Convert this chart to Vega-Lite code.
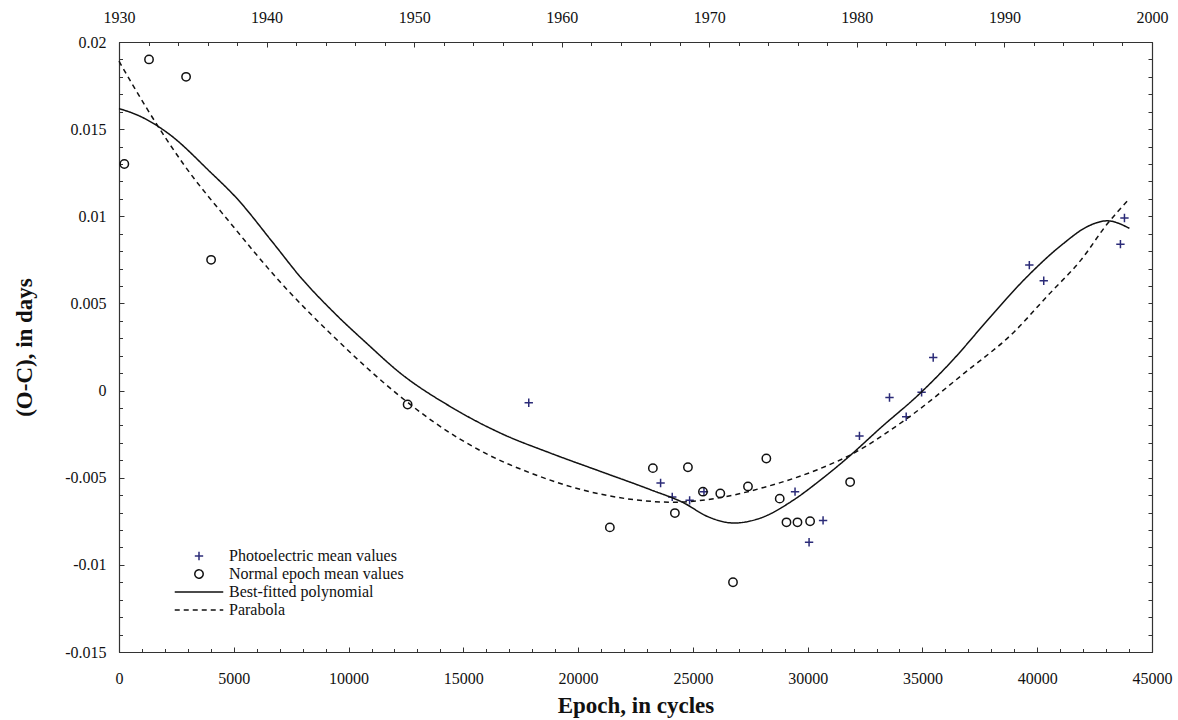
{
  "$schema": "https://vega.github.io/schema/vega-lite/v6.json",
  "width": 1033,
  "height": 610,
  "autosize": {"type": "none"},
  "padding": {"left": 119, "top": 42, "right": 26, "bottom": 68},
  "datasets": {
    "main": [
      {"series": "Photoelectric mean values", "epoch": 17850, "oc": -0.0007},
      {"series": "Photoelectric mean values", "epoch": 23593, "oc": -0.0053},
      {"series": "Photoelectric mean values", "epoch": 24101, "oc": -0.0061},
      {"series": "Photoelectric mean values", "epoch": 24858, "oc": -0.0063},
      {"series": "Photoelectric mean values", "epoch": 25482, "oc": -0.0058},
      {"series": "Photoelectric mean values", "epoch": 29450, "oc": -0.0058},
      {"series": "Photoelectric mean values", "epoch": 30061, "oc": -0.0087},
      {"series": "Photoelectric mean values", "epoch": 30671, "oc": -0.00745},
      {"series": "Photoelectric mean values", "epoch": 32256, "oc": -0.0026},
      {"series": "Photoelectric mean values", "epoch": 33565, "oc": -0.0004},
      {"series": "Photoelectric mean values", "epoch": 34292, "oc": -0.0015},
      {"series": "Photoelectric mean values", "epoch": 34963, "oc": -0.0001},
      {"series": "Photoelectric mean values", "epoch": 35469, "oc": 0.0019},
      {"series": "Photoelectric mean values", "epoch": 39656, "oc": 0.0072},
      {"series": "Photoelectric mean values", "epoch": 40284, "oc": 0.0063},
      {"series": "Photoelectric mean values", "epoch": 43625, "oc": 0.0084},
      {"series": "Photoelectric mean values", "epoch": 43800, "oc": 0.0099},
      {"series": "Normal epoch mean values", "epoch": 232, "oc": 0.013},
      {"series": "Normal epoch mean values", "epoch": 1308, "oc": 0.019},
      {"series": "Normal epoch mean values", "epoch": 2922, "oc": 0.018},
      {"series": "Normal epoch mean values", "epoch": 4012, "oc": 0.0075},
      {"series": "Normal epoch mean values", "epoch": 12573, "oc": -0.0008},
      {"series": "Normal epoch mean values", "epoch": 21383, "oc": -0.00785},
      {"series": "Normal epoch mean values", "epoch": 23257, "oc": -0.00445},
      {"series": "Normal epoch mean values", "epoch": 24216, "oc": -0.00703},
      {"series": "Normal epoch mean values", "epoch": 24784, "oc": -0.0044},
      {"series": "Normal epoch mean values", "epoch": 25438, "oc": -0.0058},
      {"series": "Normal epoch mean values", "epoch": 26194, "oc": -0.0059},
      {"series": "Normal epoch mean values", "epoch": 26747, "oc": -0.011},
      {"series": "Normal epoch mean values", "epoch": 27400, "oc": -0.0055},
      {"series": "Normal epoch mean values", "epoch": 28200, "oc": -0.0039},
      {"series": "Normal epoch mean values", "epoch": 28783, "oc": -0.0062},
      {"series": "Normal epoch mean values", "epoch": 29077, "oc": -0.00756},
      {"series": "Normal epoch mean values", "epoch": 29556, "oc": -0.00756},
      {"series": "Normal epoch mean values", "epoch": 30106, "oc": -0.0075},
      {"series": "Normal epoch mean values", "epoch": 31850, "oc": -0.00525},
      {"series": "Best-fitted polynomial", "epoch": 0, "oc": 0.01618},
      {"series": "Best-fitted polynomial", "epoch": 916, "oc": 0.01574},
      {"series": "Best-fitted polynomial", "epoch": 2151, "oc": 0.01475},
      {"series": "Best-fitted polynomial", "epoch": 3969, "oc": 0.01255},
      {"series": "Best-fitted polynomial", "epoch": 5132, "oc": 0.01103},
      {"series": "Best-fitted polynomial", "epoch": 6729, "oc": 0.00845},
      {"series": "Best-fitted polynomial", "epoch": 7893, "oc": 0.00653},
      {"series": "Best-fitted polynomial", "epoch": 9346, "oc": 0.0045},
      {"series": "Best-fitted polynomial", "epoch": 10800, "oc": 0.0027},
      {"series": "Best-fitted polynomial", "epoch": 12254, "oc": 0.001},
      {"series": "Best-fitted polynomial", "epoch": 14435, "oc": -0.00092},
      {"series": "Best-fitted polynomial", "epoch": 16615, "oc": -0.00244},
      {"series": "Best-fitted polynomial", "epoch": 18796, "oc": -0.00359},
      {"series": "Best-fitted polynomial", "epoch": 20977, "oc": -0.00464},
      {"series": "Best-fitted polynomial", "epoch": 23157, "oc": -0.00569},
      {"series": "Best-fitted polynomial", "epoch": 24610, "oc": -0.00645},
      {"series": "Best-fitted polynomial", "epoch": 25628, "oc": -0.00722},
      {"series": "Best-fitted polynomial", "epoch": 26791, "oc": -0.0076},
      {"series": "Best-fitted polynomial", "epoch": 27954, "oc": -0.00731},
      {"series": "Best-fitted polynomial", "epoch": 29407, "oc": -0.00626},
      {"series": "Best-fitted polynomial", "epoch": 30570, "oc": -0.00512},
      {"series": "Best-fitted polynomial", "epoch": 31805, "oc": -0.00378},
      {"series": "Best-fitted polynomial", "epoch": 33159, "oc": -0.00216},
      {"series": "Best-fitted polynomial", "epoch": 34903, "oc": -0.00015},
      {"series": "Best-fitted polynomial", "epoch": 36357, "oc": 0.0018},
      {"series": "Best-fitted polynomial", "epoch": 37811, "oc": 0.004},
      {"series": "Best-fitted polynomial", "epoch": 39556, "oc": 0.00653},
      {"series": "Best-fitted polynomial", "epoch": 41154, "oc": 0.00845},
      {"series": "Best-fitted polynomial", "epoch": 42170, "oc": 0.0094},
      {"series": "Best-fitted polynomial", "epoch": 43042, "oc": 0.00974},
      {"series": "Best-fitted polynomial", "epoch": 44015, "oc": 0.00931},
      {"series": "Parabola", "epoch": 0, "oc": 0.0189},
      {"series": "Parabola", "epoch": 1206, "oc": 0.0162},
      {"series": "Parabola", "epoch": 2805, "oc": 0.013},
      {"series": "Parabola", "epoch": 4985, "oc": 0.0094},
      {"series": "Parabola", "epoch": 6877, "oc": 0.00644},
      {"series": "Parabola", "epoch": 9346, "oc": 0.0031},
      {"series": "Parabola", "epoch": 12254, "oc": -0.00034},
      {"series": "Parabola", "epoch": 13709, "oc": -0.0018},
      {"series": "Parabola", "epoch": 15890, "oc": -0.00355},
      {"series": "Parabola", "epoch": 18070, "oc": -0.0048},
      {"series": "Parabola", "epoch": 20251, "oc": -0.00572},
      {"series": "Parabola", "epoch": 22431, "oc": -0.00626},
      {"series": "Parabola", "epoch": 24175, "oc": -0.00641},
      {"series": "Parabola", "epoch": 26065, "oc": -0.00617},
      {"series": "Parabola", "epoch": 28245, "oc": -0.0055},
      {"series": "Parabola", "epoch": 30425, "oc": -0.00454},
      {"series": "Parabola", "epoch": 31850, "oc": -0.0037},
      {"series": "Parabola", "epoch": 34351, "oc": -0.00158},
      {"series": "Parabola", "epoch": 36822, "oc": 0.001},
      {"series": "Parabola", "epoch": 39003, "oc": 0.00338},
      {"series": "Parabola", "epoch": 40457, "oc": 0.00545},
      {"series": "Parabola", "epoch": 41910, "oc": 0.0075},
      {"series": "Parabola", "epoch": 43073, "oc": 0.0096},
      {"series": "Parabola", "epoch": 43944, "oc": 0.0109}
    ],
    "years": [{"year": 1930}, {"year": 2000}],
    "ocrange": [{"oc": -0.015}, {"oc": 0.02}]
  },
  "layer": [
    {
      "data": {"name": "main"},
      "layer": [
        {
          "transform": [{"filter": {"field": "series", "oneOf": ["Photoelectric mean values", "Normal epoch mean values"]}}],
          "mark": {"type": "point", "filled": false, "strokeWidth": 1.5, "size": 70, "opacity": 1},
          "encoding": {
            "x": {
              "field": "epoch", "type": "quantitative",
              "scale": {"domain": [0, 45000], "nice": false, "zero": false},
              "axis": {
                "orient": "bottom", "title": "Epoch, in cycles", "titlePadding": 8,
                "values": [0,5000,10000,15000,20000,25000,30000,35000,40000,45000],
                "format": "d", "tickSize": -5,
                "labelPadding": 23, "labelOverlap": false, "labelFlush": false, "labelBound": false
              }
            },
            "y": {
              "field": "oc", "type": "quantitative",
              "scale": {"domain": [-0.015, 0.02], "nice": false, "zero": false},
              "axis": {
                "orient": "left", "title": "(O-C), in days", "titlePadding": 28,
                "values": [-0.015,-0.01,-0.005,0,0.005,0.01,0.015,0.02],
                "labelExpr": "'' + round(datum.value*1000)/1000",
                "tickSize": -5,
                "labelPadding": 18, "labelOverlap": false, "labelFlush": false, "labelBound": false
              }
            },
            "shape": {
              "field": "series", "type": "nominal",
              "scale": {
                "domain": ["Photoelectric mean values", "Normal epoch mean values", "Best-fitted polynomial", "Parabola"],
                "range": ["M-1,0H1M0,-1V1", "circle", "M-5.8,0H5.8", "M-5.8,0H5.8"]
              },
              "legend": {"title": null}
            },
            "color": {
              "field": "series", "type": "nominal",
              "scale": {
                "domain": ["Photoelectric mean values", "Normal epoch mean values", "Best-fitted polynomial", "Parabola"],
                "range": ["#2b2b78", "#111111", "#111111", "#111111"]
              },
              "legend": {"title": null}
            }
          }
        },
        {
          "transform": [{"filter": {"field": "series", "oneOf": ["Best-fitted polynomial", "Parabola"]}}],
          "mark": {"type": "line", "strokeWidth": 1.5, "interpolate": "monotone"},
          "encoding": {
            "x": {
              "field": "epoch", "type": "quantitative",
              "scale": {"domain": [0, 45000], "nice": false, "zero": false},
              "axis": {
                "orient": "bottom", "title": null, "labels": false, "domain": false, "tickSize": -3.5,
                "values": [1000,2000,3000,4000,6000,7000,8000,9000,11000,12000,13000,14000,16000,17000,18000,19000,21000,22000,23000,24000,26000,27000,28000,29000,31000,32000,33000,34000,36000,37000,38000,39000,41000,42000,43000,44000]
              }
            },
            "y": {
              "field": "oc", "type": "quantitative",
              "scale": {"domain": [-0.015, 0.02], "nice": false, "zero": false},
              "axis": {
                "orient": "left", "title": null, "labels": false, "domain": false, "tickSize": -3.5,
                "values": [-0.014,-0.013,-0.012,-0.011,-0.009,-0.008,-0.007,-0.006,-0.004,-0.003,-0.002,-0.001,0.001,0.002,0.003,0.004,0.006,0.007,0.008,0.009,0.011,0.012,0.013,0.014,0.016,0.017,0.018,0.019]
              }
            },
            "color": {"field": "series", "type": "nominal", "legend": {"title": null}},
            "strokeDash": {
              "field": "series", "type": "nominal",
              "scale": {
                "domain": ["Photoelectric mean values", "Normal epoch mean values", "Best-fitted polynomial", "Parabola"],
                "range": [[1, 0], [1, 0], [1, 0], [5, 4]]
              },
              "legend": {"title": null}
            }
          }
        }
      ],
      "resolve": {"axis": {"x": "independent", "y": "independent"}}
    },
    {
      "data": {"name": "years"},
      "layer": [
        {
          "mark": {"type": "point", "opacity": 0},
          "encoding": {
            "x": {
              "field": "year", "type": "quantitative",
              "scale": {"domain": [1930, 2000], "nice": false, "zero": false},
              "axis": {
                "orient": "top", "title": null, "format": "d", "tickSize": -5,
                "values": [1930,1940,1950,1960,1970,1980,1990,2000],
                "labelPadding": 22, "labelOverlap": false, "labelFlush": false, "labelBound": false
              }
            }
          }
        },
        {
          "mark": {"type": "point", "opacity": 0},
          "encoding": {
            "x": {
              "field": "year", "type": "quantitative",
              "scale": {"domain": [1930, 2000], "nice": false, "zero": false},
              "axis": {
                "orient": "top", "title": null, "labels": false, "domain": false, "tickSize": -3.5,
                "values": [1932,1934,1936,1938,1942,1944,1946,1948,1952,1954,1956,1958,1962,1964,1966,1968,1972,1974,1976,1978,1982,1984,1986,1988,1992,1994,1996,1998]
              }
            }
          }
        }
      ],
      "resolve": {"axis": {"x": "independent"}}
    },
    {
      "data": {"name": "ocrange"},
      "mark": {"type": "point", "opacity": 0},
      "encoding": {
        "y": {
          "field": "oc", "type": "quantitative",
          "scale": {"domain": [-0.015, 0.02], "nice": false, "zero": false},
          "axis": {
            "orient": "right", "title": null, "labels": false, "tickSize": -4,
            "values": [-0.015,-0.014,-0.013,-0.012,-0.011,-0.01,-0.009,-0.008,-0.007,-0.006,-0.005,-0.004,-0.003,-0.002,-0.001,0,0.001,0.002,0.003,0.004,0.005,0.006,0.007,0.008,0.009,0.01,0.011,0.012,0.013,0.014,0.015,0.016,0.017,0.018,0.019,0.02]
          }
        }
      }
    }
  ],
  "resolve": {
    "scale": {"x": "independent", "y": "independent"},
    "axis": {"x": "independent", "y": "independent"}
  },
  "config": {
    "font": "Liberation Serif",
    "view": {"stroke": "#333333", "strokeWidth": 1},
    "axis": {
      "labelFont": "Liberation Serif", "labelFontSize": 16, "labelColor": "#111111",
      "titleFont": "Liberation Serif", "titleFontSize": 23, "titleFontWeight": "bold", "titleColor": "#111111",
      "grid": false, "tickColor": "#333333", "domainColor": "#333333", "domainWidth": 1.2,
      "tickWidth": 1, "labelOverlap": false, "labelFlush": false, "labelBound": false
    },
    "legend": {
      "orient": "none", "legendX": 72, "legendY": 506,
      "labelFont": "Liberation Serif", "labelFontSize": 16, "labelColor": "#111111",
      "labelOffset": 22, "labelLimit": 400, "rowPadding": 2, "padding": 0,
      "symbolSize": 70, "symbolStrokeWidth": 1.5
    }
  }
}
